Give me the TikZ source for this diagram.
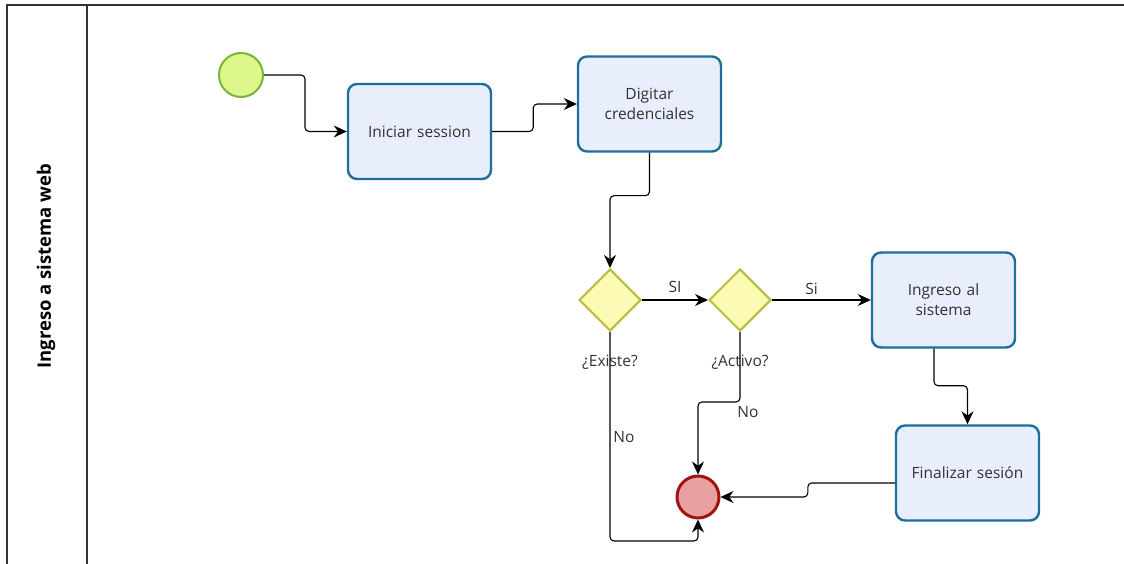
\documentclass[tikz,border=0pt]{standalone}
\usepackage{fontspec}
\setmainfont{Open Sans}
\usepackage{tikz}
\usetikzlibrary{arrows.meta,positioning,shapes.geometric,calc}
\usepackage{xcolor}
\definecolor{taskfill}{RGB}{232,238,252}
\definecolor{taskline}{RGB}{28,110,155}
\definecolor{startfill}{RGB}{222,247,140}
\definecolor{startline}{RGB}{120,180,55}
\definecolor{gwfill}{RGB}{250,250,180}
\definecolor{gwline}{RGB}{185,185,60}
\definecolor{endfill}{RGB}{232,160,160}
\definecolor{endline}{RGB}{160,20,20}
\definecolor{txt}{RGB}{50,50,50}

\begin{document}
\begin{tikzpicture}[x=1pt, y=-1pt, every node/.style={font=\fontsize{15.5}{20}\selectfont, text=txt}]
\tikzset{task/.style={draw=taskline, line width=2.4pt, rounded corners=9pt, fill=taskfill, minimum width=143pt, minimum height=95pt, align=center, text width=125pt}}
\tikzset{gw/.style={draw=gwline, line width=2pt, diamond, fill=gwfill, minimum width=62pt, minimum height=62pt, inner sep=0pt}}
\tikzset{startev/.style={draw=startline, line width=2pt, circle, fill=startfill, minimum size=44pt, inner sep=0pt}}
\tikzset{endev/.style={draw=endline, line width=3pt, circle, fill=endfill, minimum size=42pt, inner sep=0pt}}
\tikzset{flow/.style={draw=black, line width=1.1pt, rounded corners=4pt, -{Stealth[length=13pt, width=12pt]}}}
\useasboundingbox (0,0) rectangle (1124,564);

% Pool and lane
\draw[line width=1.4pt, black!80] (7,575) -- (7,5) -- (1135,5);
\draw[line width=1.4pt, black!80] (87,5) -- (87,575);
\node[rotate=90, font=\fontsize{18.5}{22}\selectfont\bfseries, text=black] (lane) at (46,266) {Ingreso a sistema web};

% Nodes
\node[startev] (start) at (241,75) {};
\node[task] (ini) at (419.5,131.5) {Iniciar session};
\node[task] (dig) at (649.5,104) {Digitar\\credenciales};
\node[gw] (d1) at (610,300) {};
\node[gw] (d2) at (740,300) {};
\node[task] (ing) at (943.5,300) {Ingreso al\\sistema};
\node[task] (fin) at (967.5,473) {Finalizar sesión};
\node[endev] (end) at (698,497) {};
\node (q1) at (610,362) {¿Existe?};
\node (q2) at (740,362) {¿Activo?};

% Flows
\draw[flow] (start.east) -- ++(41,0) |- (ini.west);
\draw[flow] (ini.east) -- ++(41,0) |- (dig.west);
\draw[flow] (dig.south) -- ++(0,43) -| (d1.north);
\draw[flow] (d1.east) -- node[above=3pt] (si1) {SI} (d2.west);
\draw[flow] (d2.east) -- node[above=1pt, pos=0.4] (si2) {Si} (ing.west);
\draw[flow] (d1.south) -- (d1.south |- 0,541) -| (end.south);
\draw[flow] (d2.south) -- ++(0,70) -| (end.north);
\draw[flow] ([xshift=-9.5pt]ing.south) -- ++(0,37) -| (fin.north);
\draw[flow] ([yshift=-10pt]fin.west) -- ++(-87,0) |- (end.east);
\node (no1) at (624,437) {No};
\node (no2) at (748,412) {No};
\end{tikzpicture}
\end{document}
